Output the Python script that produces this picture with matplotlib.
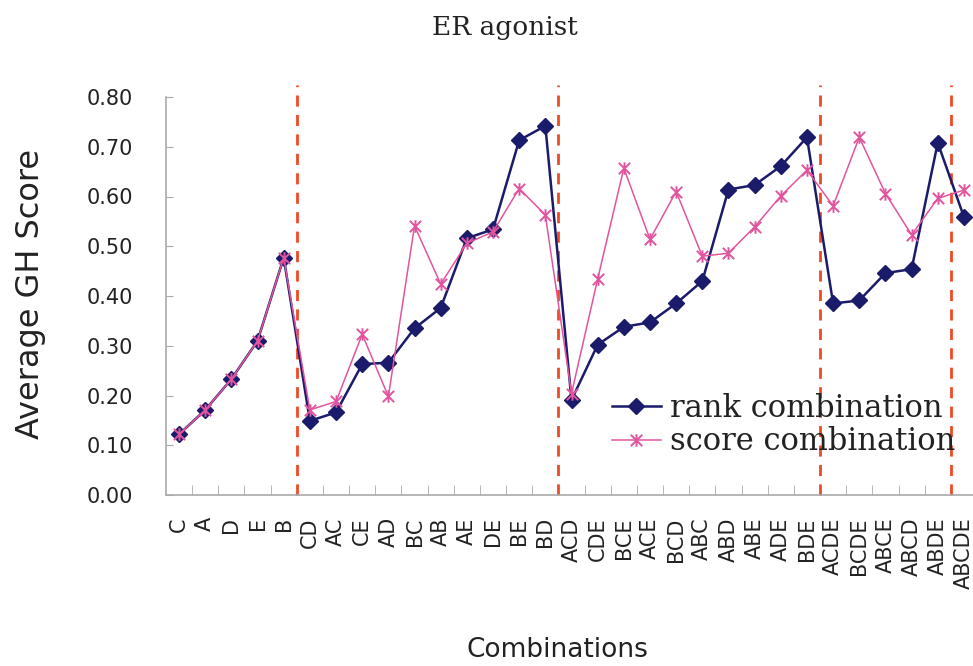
import matplotlib
matplotlib.use("Agg")
import matplotlib.pyplot as plt
from matplotlib.ticker import FixedLocator
from matplotlib.path import Path

categories = ["C", "A", "D", "E", "B",
              "CD", "AC", "CE", "AD", "BC", "AB", "AE", "DE", "BE", "BD",
              "ACD", "CDE", "BCE", "ACE", "BCD", "ABC", "ABD", "ABE", "ADE", "BDE",
              "ACDE", "BCDE", "ABCE", "ABCD", "ABDE",
              "ABCDE"]
rank_comb = [0.122, 0.171, 0.233, 0.310, 0.477,
             0.149, 0.166, 0.263, 0.266, 0.335, 0.376, 0.516, 0.534, 0.713, 0.742,
             0.191, 0.302, 0.338, 0.347, 0.385, 0.430, 0.614, 0.623, 0.661, 0.719,
             0.385, 0.391, 0.446, 0.454, 0.708,
             0.559]
score_comb = [0.122, 0.171, 0.233, 0.310, 0.477,
              0.171, 0.188, 0.323, 0.198, 0.541, 0.424, 0.506, 0.529, 0.616, 0.563,
              0.204, 0.434, 0.657, 0.514, 0.610, 0.480, 0.486, 0.539, 0.601, 0.653,
              0.581, 0.719, 0.606, 0.523, 0.596,
              0.613]
group_breaks = [4.5, 14.5, 24.5, 29.5]
yticks = [0.0, 0.1, 0.2, 0.3, 0.4, 0.5, 0.6, 0.7, 0.8]

W, H = 973, 666
fig = plt.figure(figsize=(W / 100, H / 100), dpi=100)
left, right, bottom, top = 166, 977, 495, 97
ax = fig.add_axes([left / W, 1 - bottom / H, (right - left) / W, (bottom - top) / H])

# asterisk-like marker: X plus a vertical bar
star = Path([(-1, -1), (1, 1), (-1, 1), (1, -1), (0, -1.1), (0, 1.1)],
            [Path.MOVETO, Path.LINETO, Path.MOVETO, Path.LINETO, Path.MOVETO, Path.LINETO])

x = list(range(len(categories)))
navy = "#1b1b6b"
pink = "#e2559e"
ax.plot(x, rank_comb, color=navy, lw=1.8, marker="D", ms=8.5, mfc=navy, mec=navy,
        label="rank combination", zorder=3)
ax.plot(x, score_comb, color=pink, lw=1.1, marker=star, ms=9, mfc="none", mec=pink, mew=1.4,
        label="score combination", zorder=4)

for b in group_breaks:
    ax.plot([b, b], [0, 0.825], color="#f04a25", lw=2, ls=(0, (4, 3)), clip_on=False, zorder=2)

ax.set_xlim(-0.5, len(categories) - 0.5)
ax.set_ylim(0, 0.8)
ax.set_yticks(yticks)
ax.set_yticklabels([f"{v:.2f}" for v in yticks], fontsize=15, family="DejaVu Sans", color="#222222")
ax.set_xticks(x)
ax.set_xticklabels(categories, rotation=90, fontsize=15, family="DejaVu Sans", color="#222222")
ax.xaxis.set_minor_locator(FixedLocator([i + 0.5 for i in range(len(categories) - 1)]))
ax.tick_params(axis="x", which="major", length=0, pad=16)
ax.tick_params(axis="x", which="minor", direction="in", length=7, color="#aaaaaa")
ax.tick_params(axis="y", which="major", direction="in", length=5, color="#aaaaaa", pad=24)

for s in ["top", "right"]:
    ax.spines[s].set_visible(False)
for s in ["left", "bottom"]:
    ax.spines[s].set_color("#aaaaaa")
    ax.spines[s].set_linewidth(1.2)

fig.text(505 / W, 1 - 28 / H, "ER agonist", ha="center", va="center",
         fontsize=19, family="DejaVu Serif", color="#222222")
fig.text(31 / W, 1 - 294 / H, "Average GH Score", rotation=90, ha="center", va="center",
         fontsize=23, family="DejaVu Sans", color="#222222")
fig.text(557 / W, 1 - 650 / H, "Combinations", ha="center", va="center",
         fontsize=19, family="DejaVu Sans", color="#222222")

leg = ax.legend(loc="upper left", bbox_to_anchor=(612 / W, 1 - 393 / H),
                bbox_transform=fig.transFigure, frameon=False,
                prop={"family": "DejaVu Serif", "size": 22},
                handlelength=1.6, handletextpad=0.3, labelspacing=0.08,
                borderpad=0, borderaxespad=0)
for t in leg.get_texts():
    t.set_color("#222222")

fig.savefig("out.png", dpi=100)
